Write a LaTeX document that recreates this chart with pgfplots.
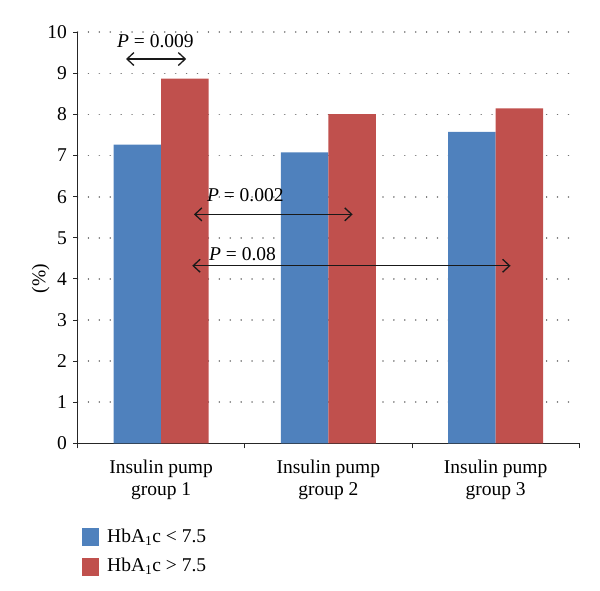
\documentclass[border=0pt]{standalone}
\usepackage{fontspec}
\setmainfont{Liberation Serif}
\usepackage{pgfplots}
\pgfplotsset{compat=1.18}
\usetikzlibrary{arrows.meta}
\definecolor{cblue}{HTML}{4F81BD}
\definecolor{cred}{HTML}{C0504D}
\begin{document}
\fontsize{19.5}{21}\selectfont
\begin{tikzpicture}[x=1pt,y=1pt]
\path[use as bounding box] (0,0) rectangle (600,590);
\begin{axis}[
  at={(77.5pt,146.7pt)}, anchor=south west,
  scale only axis, width=501.8pt, height=411pt,
  xmin=-0.5, xmax=2.5, ymin=0, ymax=10,
  ytick={0,1,...,10},
  xtick={0,1,2},
  xticklabels={{Insulin pump\\group 1},{Insulin pump\\group 2},{Insulin pump\\group 3}},
  xticklabel style={align=center, font=\fontsize{19.5}{21.5}\selectfont, yshift=-6pt},
  yticklabel style={font=\fontsize{19.5}{21}\selectfont},
  /pgf/number format/assume math mode=true,
  major x tick style={draw=none},
  minor xtick={-0.5,0.5,1.5,2.5},
  minor tick length=5pt, major tick length=4pt,
  tick align=outside,
  axis lines*=left,
  axis line style={line width=1.1pt, black!85},
  tick style={line width=0.9pt, black!85},
  ymajorgrids,
  grid style={black!55, line width=1.6pt, dash pattern=on 0.01pt off 10.9pt, line cap=round},
  ybar=0pt, bar width=47.5pt,
  ylabel={(\%)},
  ylabel style={font=\fontsize{19.5}{21}\selectfont},
  every axis y label/.style={at={(ticklabel cs:0.5)}, rotate=90, anchor=center, xshift=-41pt},
  legend style={at={(0.003,-0.198)}, anchor=north west, draw=none, fill=none,
    font=\fontsize{19.5}{21}\selectfont, row sep=9pt, cells={anchor=west},
    nodes={inner xsep=8pt}},
  legend image code/.code={\fill[#1,draw=none] (0pt,-9pt) rectangle (17pt,9pt);},
]
\addplot[fill=cblue, draw=none] coordinates {(0,7.27) (1,7.08) (2,7.58)};
\addplot[fill=cred, draw=none] coordinates {(0,8.87) (1,8.01) (2,8.15)};
\legend{HbA\textsubscript{1}c < 7.5, HbA\textsubscript{1}c > 7.5}
\draw[{Straight Barb[length=7pt,width=13pt,line width=1.3pt]}-{Straight Barb[length=7pt,width=13pt,line width=1.3pt]}, line width=1.3pt, black!90]
  (axis cs:-0.21,9.35) -- (axis cs:0.15,9.35);
\draw[{Straight Barb[length=7pt,width=13pt,line width=1.3pt]}-{Straight Barb[length=7pt,width=13pt,line width=1.3pt]}, line width=1.3pt, black!90]
  (axis cs:0.196,5.57) -- (axis cs:1.145,5.57);
\draw[{Straight Barb[length=7pt,width=13pt,line width=1.3pt]}-{Straight Barb[length=7pt,width=13pt,line width=1.3pt]}, line width=1.3pt, black!90]
  (axis cs:0.186,4.32) -- (axis cs:2.089,4.32);
\node at (axis cs:-0.034,9.78) {\textit{P} = 0.009};
\node at (axis cs:0.503,6.03) {\textit{P} = 0.002};
\node at (axis cs:0.487,4.6) {\textit{P} = 0.08};
\end{axis}
\end{tikzpicture}
\end{document}
